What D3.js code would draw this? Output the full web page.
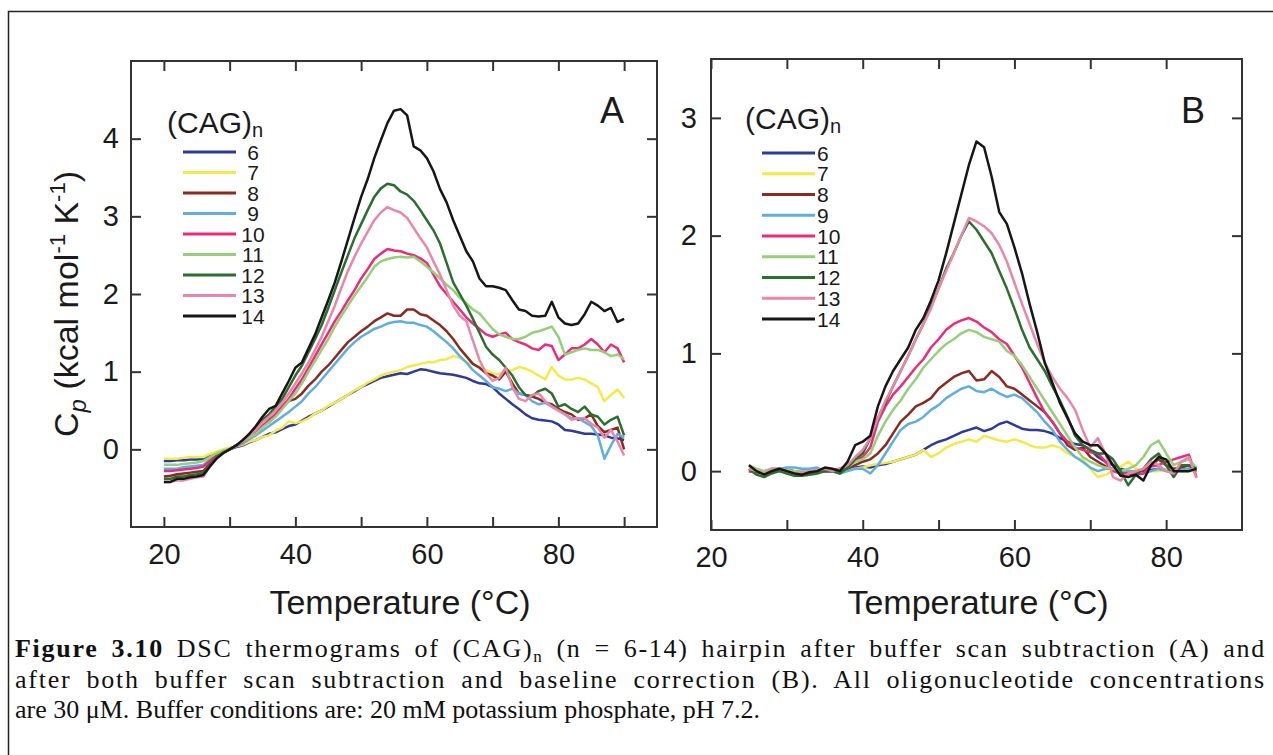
<!DOCTYPE html>
<html lang="en">
<head>
<meta charset="UTF-8">
<title>DSC thermograms of (CAG)n</title>
<script src="https://d3js.org/d3.v7.min.js"></script>
<style>
  body { margin: 0; background: #fff; }
  svg text { font-family: Arial, "Liberation Sans", sans-serif; fill: #1a1a1a; }
  .caption text { font-family: "Times New Roman", "Liberation Serif", serif; fill: #111; }
</style>
</head>
<body>
<svg id="fig" width="1273" height="755"></svg>
<script>
// ---- data (one value per degree) ----
const names = ["6", "7", "8", "9", "10", "11", "12", "13", "14"];
const colors = ["#2e3a9a", "#f5e94a", "#8b2b1e", "#5eaee3", "#ee2a7b", "#94d07a", "#2b6e2e", "#ea86a8", "#161616"];

// panel A: after buffer scan subtraction, 20..90 °C
const tempsA = d3.range(20, 91);
const a6  = [-0.15,-0.15,-0.14,-0.14,-0.13,-0.13,-0.12,-0.08,-0.05,-0.02,0.0,0.03,0.05,0.09,0.12,0.16,0.2,0.22,0.26,0.3,
             0.32,0.37,0.42,0.46,0.5,0.55,0.6,0.65,0.7,0.75,0.8,0.84,0.88,0.92,0.94,0.96,0.98,0.97,1.0,1.03,
             1.02,1.0,0.98,0.97,0.96,0.94,0.92,0.88,0.85,0.84,0.8,0.72,0.65,0.58,0.52,0.45,0.4,0.38,0.37,0.36,
             0.32,0.25,0.24,0.22,0.2,0.2,0.19,0.18,0.15,0.14,0.12];
const a7  = [-0.12,-0.12,-0.12,-0.11,-0.1,-0.1,-0.1,-0.06,-0.03,0.0,0.02,0.04,0.06,0.1,0.12,0.16,0.18,0.24,0.28,0.36,
             0.34,0.36,0.4,0.46,0.5,0.56,0.6,0.65,0.7,0.76,0.8,0.86,0.9,0.95,0.98,1.0,1.02,1.06,1.08,1.1,
             1.12,1.12,1.15,1.16,1.2,1.18,1.12,1.1,1.06,1.02,0.98,0.97,1.0,1.02,1.06,1.04,1.0,0.95,0.9,1.06,
             0.95,0.9,0.9,0.92,0.9,0.85,0.8,0.62,0.7,0.77,0.66];
const a8  = [-0.35,-0.34,-0.32,-0.31,-0.3,-0.29,-0.28,-0.18,-0.1,-0.04,0.0,0.04,0.08,0.14,0.2,0.3,0.35,0.45,0.55,0.62,
             0.65,0.72,0.82,0.9,1.0,1.08,1.18,1.28,1.38,1.45,1.52,1.58,1.65,1.7,1.75,1.72,1.72,1.8,1.8,1.74,
             1.72,1.66,1.6,1.52,1.42,1.3,1.2,1.1,1.05,0.98,0.95,0.9,1.0,0.85,0.72,0.7,0.68,0.65,0.6,0.58,
             0.52,0.48,0.45,0.38,0.4,0.45,0.3,0.22,0.25,0.28,0.0];
const a9  = [-0.25,-0.25,-0.25,-0.23,-0.22,-0.21,-0.2,-0.13,-0.07,-0.02,0.0,0.04,0.08,0.13,0.18,0.24,0.3,0.36,0.42,0.48,
             0.55,0.62,0.72,0.8,0.9,1.0,1.1,1.2,1.3,1.38,1.45,1.5,1.55,1.58,1.62,1.64,1.65,1.63,1.63,1.6,
             1.58,1.52,1.45,1.38,1.3,1.2,1.12,1.02,0.95,0.88,0.8,0.78,0.75,0.78,0.72,0.7,0.62,0.58,0.6,0.55,
             0.5,0.45,0.4,0.4,0.35,0.3,0.18,-0.12,0.05,0.2,0.15];
const a10 = [-0.28,-0.28,-0.27,-0.26,-0.25,-0.24,-0.22,-0.15,-0.08,-0.03,0.0,0.05,0.1,0.15,0.22,0.3,0.38,0.45,0.55,0.65,
             0.78,0.9,1.05,1.2,1.35,1.5,1.65,1.78,1.92,2.05,2.2,2.32,2.45,2.52,2.58,2.56,2.55,2.52,2.5,2.46,
             2.4,2.25,2.1,2.0,1.9,1.8,1.7,1.62,1.55,1.48,1.45,1.48,1.5,1.42,1.38,1.35,1.3,1.28,1.35,1.33,
             1.15,1.22,1.3,1.3,1.35,1.42,1.35,1.25,1.35,1.3,1.12];
const a11 = [-0.2,-0.2,-0.2,-0.19,-0.18,-0.17,-0.15,-0.1,-0.05,-0.02,0.0,0.05,0.1,0.15,0.2,0.28,0.35,0.42,0.52,0.62,
             0.72,0.85,1.0,1.14,1.28,1.42,1.58,1.72,1.85,1.98,2.1,2.22,2.35,2.42,2.45,2.47,2.48,2.47,2.48,2.42,
             2.35,2.28,2.2,2.12,2.05,1.95,1.88,1.8,1.75,1.65,1.55,1.48,1.45,1.42,1.42,1.45,1.5,1.52,1.55,1.58,
             1.45,1.22,1.25,1.28,1.3,1.28,1.28,1.25,1.2,1.22,1.16];
const a12 = [-0.38,-0.38,-0.35,-0.35,-0.33,-0.32,-0.3,-0.2,-0.1,-0.04,0.0,0.05,0.1,0.2,0.28,0.38,0.45,0.55,0.65,0.8,
             0.95,1.08,1.25,1.42,1.6,1.82,2.05,2.28,2.5,2.72,2.9,3.08,3.25,3.36,3.42,3.4,3.32,3.28,3.2,3.08,
             2.95,2.82,2.65,2.4,2.15,2.0,1.85,1.68,1.5,1.32,1.22,1.15,1.05,0.95,0.8,0.7,0.68,0.75,0.78,0.72,
             0.55,0.58,0.52,0.48,0.55,0.45,0.42,0.32,0.38,0.42,0.18];
const a13 = [-0.42,-0.42,-0.4,-0.4,-0.38,-0.36,-0.35,-0.22,-0.12,-0.05,0.0,0.05,0.1,0.18,0.25,0.35,0.42,0.5,0.6,0.72,
             0.85,0.98,1.12,1.28,1.45,1.65,1.85,2.08,2.3,2.48,2.65,2.8,2.95,3.05,3.12,3.08,3.05,2.98,2.85,2.72,
             2.6,2.42,2.25,2.05,1.85,1.72,1.65,1.4,1.15,0.98,0.88,0.92,1.05,0.8,0.65,0.62,0.7,0.72,0.62,0.55,
             0.5,0.45,0.38,0.4,0.4,0.33,0.28,0.15,0.25,0.1,-0.08];
const a14 = [-0.42,-0.42,-0.38,-0.38,-0.36,-0.35,-0.33,-0.22,-0.12,-0.05,0.0,0.05,0.12,0.2,0.3,0.42,0.52,0.56,0.72,0.88,
             1.05,1.12,1.3,1.48,1.7,1.92,2.15,2.42,2.7,2.98,3.25,3.48,3.75,3.98,4.2,4.36,4.38,4.3,3.9,3.85,
             3.75,3.58,3.35,3.18,2.95,2.75,2.55,2.42,2.2,2.1,2.1,2.08,2.05,1.92,1.8,1.78,1.72,1.71,1.72,1.9,
             1.7,1.62,1.6,1.62,1.74,1.9,1.85,1.78,1.82,1.64,1.68];

// panel B: after buffer subtraction and baseline correction, 25..84 °C
const tempsB = d3.range(25, 85);
const b6  = [0.0,0.0,0.0,0.0,0.0,0.0,0.0,0.0,0.0,0.0,0.0,0.0,0.01,0.02,0.03,0.04,0.03,0.05,0.06,0.08,
             0.1,0.12,0.14,0.18,0.22,0.25,0.27,0.3,0.33,0.35,0.37,0.34,0.36,0.4,0.42,0.39,0.36,0.35,0.35,0.34,
             0.32,0.28,0.25,0.23,0.22,0.18,0.12,0.08,0.05,0.02,0.0,0.0,0.0,0.01,0.02,0.01,0.0,0.01,0.02,0.0];
const b7  = [0.0,0.0,-0.01,0.0,0.0,0.0,0.0,0.01,0.0,0.0,0.0,0.0,0.0,0.01,0.02,0.03,0.05,0.06,0.07,0.08,
             0.1,0.12,0.14,0.18,0.12,0.15,0.2,0.23,0.25,0.27,0.25,0.3,0.28,0.26,0.25,0.27,0.25,0.22,0.2,0.2,
             0.22,0.2,0.15,0.12,0.1,0.02,-0.05,-0.03,0.0,0.04,0.08,0.02,0.0,0.0,0.0,0.01,0.02,0.0,0.0,0.0];
const b8  = [0.0,-0.01,-0.02,0.0,0.02,0.01,0.0,-0.01,-0.02,0.0,0.0,0.0,0.0,0.02,0.05,0.08,0.1,0.15,0.22,0.32,
             0.42,0.48,0.55,0.58,0.62,0.7,0.75,0.8,0.83,0.85,0.77,0.78,0.85,0.8,0.72,0.7,0.65,0.6,0.55,0.5,
             0.42,0.32,0.22,0.18,0.2,0.12,0.08,0.04,0.02,0.0,-0.02,0.0,0.0,0.05,0.1,0.05,0.02,0.03,0.05,0.0];
const b9  = [0.0,0.0,0.0,0.02,0.02,0.03,0.03,0.02,0.02,0.03,0.0,0.0,-0.02,0.0,0.02,0.02,-0.02,0.05,0.15,0.25,
             0.35,0.4,0.42,0.46,0.52,0.56,0.62,0.66,0.7,0.72,0.68,0.67,0.7,0.66,0.63,0.65,0.62,0.56,0.5,0.42,
             0.35,0.25,0.18,0.12,0.08,0.03,0.0,0.02,0.02,0.0,0.0,0.0,-0.02,0.0,0.02,0.0,0.0,0.01,0.02,0.0];
const b10 = [0.0,0.0,-0.02,0.0,0.02,0.01,0.0,-0.01,-0.02,0.0,0.0,0.01,0.02,0.05,0.1,0.12,0.2,0.42,0.55,0.65,
             0.72,0.8,0.88,0.95,1.05,1.12,1.2,1.25,1.28,1.3,1.27,1.22,1.18,1.12,1.08,0.98,0.88,0.75,0.62,0.5,
             0.42,0.32,0.25,0.2,0.18,0.16,0.15,0.08,0.0,-0.02,-0.02,-0.03,-0.02,0.04,0.05,0.08,0.1,0.12,0.14,-0.05];
const b11 = [0.05,0.02,0.0,0.02,0.02,0.01,0.0,0.0,0.0,0.01,0.02,0.0,0.0,0.03,0.08,0.1,0.15,0.3,0.42,0.52,
             0.6,0.7,0.78,0.88,0.95,1.02,1.08,1.12,1.17,1.2,1.18,1.14,1.12,1.1,1.02,0.98,0.9,0.8,0.7,0.6,
             0.5,0.4,0.3,0.2,0.12,0.08,0.05,0.03,0.02,0.0,0.02,0.05,0.12,0.22,0.26,0.15,0.05,0.08,0.1,0.03];
const b12 = [0.02,-0.03,-0.05,-0.02,0.0,-0.02,-0.04,-0.04,-0.03,-0.02,0.0,0.0,-0.02,0.03,0.1,0.15,0.28,0.45,0.58,0.72,
             0.85,0.98,1.12,1.25,1.4,1.55,1.72,1.85,2.0,2.12,2.05,1.95,1.85,1.7,1.55,1.38,1.2,1.05,0.95,0.85,
             0.72,0.6,0.46,0.3,0.22,0.18,0.15,0.15,0.1,0.0,-0.12,-0.03,0.02,0.1,0.15,0.05,-0.05,0.05,0.05,0.02];
const b13 = [0.02,0.0,-0.02,0.02,0.02,0.0,-0.02,-0.01,0.0,0.01,0.02,0.0,0.02,0.05,0.12,0.18,0.28,0.45,0.6,0.72,
             0.85,0.98,1.12,1.25,1.38,1.55,1.7,1.85,2.0,2.15,2.12,2.08,2.02,1.92,1.78,1.6,1.42,1.25,1.08,0.92,
             0.8,0.7,0.62,0.52,0.35,0.2,0.28,0.15,-0.05,-0.08,-0.02,0.0,0.02,0.08,0.05,0.0,-0.02,0.08,0.12,-0.06];
const b14 = [0.05,0.0,-0.03,0.0,0.02,0.0,-0.02,-0.03,-0.01,0.0,0.03,0.02,0.0,0.08,0.22,0.25,0.3,0.55,0.72,0.85,
             0.95,1.05,1.2,1.3,1.45,1.62,1.85,2.1,2.35,2.6,2.8,2.75,2.5,2.2,2.1,1.9,1.68,1.42,1.18,0.92,
             0.75,0.58,0.45,0.32,0.25,0.22,0.22,0.15,0.05,-0.04,-0.05,-0.03,-0.08,0.05,0.12,0.1,0.0,0.0,0.0,0.02];

const seriesA = [a6, a7, a8, a9, a10, a11, a12, a13, a14];
const seriesB = [b6, b7, b8, b9, b10, b11, b12, b13, b14];

// ---- layout ----
const svg = d3.select("#fig");

// outer figure box
svg.append("rect")
  .attr("x", 8.5).attr("y", 11.5)
  .attr("width", 1400).attr("height", 900)
  .attr("fill", "none").attr("stroke", "#222").attr("stroke-width", 1.5);

const panels = [
  { letter: "A", temps: tempsA, series: seriesA,
    left: 131, right: 657, top: 61, bottom: 527,
    xDomain: [15, 95], yDomain: [-1, 5],
    xTicks: [20, 30, 40, 50, 60, 70, 80, 90], yTicks: [0, 1, 2, 3, 4],
    yPad: 12, titleX: 400, letterX: 612,
    legX: 183, legY: 152, legStep: 20.5, legNumX: 253, legAnchor: "middle", headX: 167, headY: 133 },
  { letter: "B", temps: tempsB, series: seriesB,
    left: 711, right: 1242, top: 59, bottom: 530,
    xDomain: [20, 90], yDomain: [-0.5, 3.5],
    xTicks: [20, 30, 40, 50, 60, 70, 80], yTicks: [0, 1, 2, 3],
    yPad: 14, titleX: 978, letterX: 1193,
    legX: 762, legY: 153, legStep: 20.75, legNumX: 817, legAnchor: "start", headX: 745, headY: 129 }
];

panels.forEach(p => {
  const x = d3.scaleLinear().domain(p.xDomain).range([p.left, p.right]);
  const y = d3.scaleLinear().domain(p.yDomain).range([p.bottom, p.top]);
  const fmtX = d => (d % 20 === 0 ? d : "");

  const styleAxis = g => {
    g.select(".domain").remove();
    g.selectAll(".tick line").attr("stroke", "#333").attr("stroke-width", 2);
    g.attr("font-family", "Arial, 'Liberation Sans', sans-serif").attr("font-size", 29);
    g.selectAll(".tick text").attr("fill", "#1a1a1a");
  };

  svg.append("g").attr("transform", `translate(0,${p.bottom})`)
    .call(d3.axisBottom(x).tickValues(p.xTicks).tickFormat(fmtX).tickSize(-10).tickPadding(16))
    .call(styleAxis);
  svg.append("g").attr("transform", `translate(0,${p.top})`)
    .call(d3.axisTop(x).tickValues(p.xTicks).tickFormat("").tickSize(-10))
    .call(styleAxis);
  svg.append("g").attr("transform", `translate(${p.left},0)`)
    .call(d3.axisLeft(y).tickValues(p.yTicks).tickFormat(d3.format("d")).tickSize(-10).tickPadding(p.yPad))
    .call(styleAxis);
  svg.append("g").attr("transform", `translate(${p.right},0)`)
    .call(d3.axisRight(y).tickValues(p.yTicks).tickFormat("").tickSize(-10))
    .call(styleAxis);

  // frame
  svg.append("rect")
    .attr("x", p.left).attr("y", p.top)
    .attr("width", p.right - p.left).attr("height", p.bottom - p.top)
    .attr("fill", "none").attr("stroke", "#333").attr("stroke-width", 2);

  // curves
  const line = d3.line().x(d => x(d[0])).y(d => y(d[1]));
  svg.append("g").selectAll("path")
    .data(p.series)
    .join("path")
    .attr("d", s => line(p.temps.map((t, i) => [t, s[i]])))
    .attr("fill", "none")
    .attr("stroke", (s, i) => colors[i])
    .attr("stroke-width", 2.5)
    .attr("stroke-linejoin", "round");

  // legend
  const head = svg.append("text").attr("x", p.headX).attr("y", p.headY).attr("font-size", 30);
  head.append("tspan").text("(CAG)");
  head.append("tspan").attr("font-size", 20).attr("dy", 4).text("n");

  const leg = svg.append("g");
  names.forEach((n, i) => {
    const ly = p.legY + i * p.legStep;
    leg.append("line")
      .attr("x1", p.legX).attr("x2", p.legX + 53)
      .attr("y1", ly).attr("y2", ly)
      .attr("stroke", colors[i]).attr("stroke-width", 3);
    leg.append("text")
      .attr("x", p.legNumX).attr("y", ly).attr("dy", "0.36em")
      .attr("text-anchor", p.legAnchor).attr("font-size", 21)
      .text(n);
  });

  // panel letter
  svg.append("text").attr("x", p.letterX).attr("y", 123)
    .attr("text-anchor", "middle").attr("font-size", 36).text(p.letter);

  // x title
  svg.append("text").attr("x", p.titleX).attr("y", 614)
    .attr("text-anchor", "middle").attr("font-size", 34).text("Temperature (°C)");
});

// y title (panel A only)
const yt = svg.append("text")
  .attr("transform", "translate(78,304) rotate(-90)")
  .attr("text-anchor", "middle").attr("font-size", 34);
yt.append("tspan").text("C");
yt.append("tspan").attr("font-style", "italic").attr("font-size", 24).attr("dy", 8).text("p");
yt.append("tspan").attr("dy", -8).text(" (kcal mol");
yt.append("tspan").attr("font-size", 22).attr("dy", -13).text("-1");
yt.append("tspan").attr("dy", 13).text(" K");
yt.append("tspan").attr("font-size", 22).attr("dy", -13).text("-1");
yt.append("tspan").attr("dy", 13).text(")");

// caption
const cap = svg.append("g").attr("class", "caption");
const capSize = 26;
const l1 = cap.append("text").attr("x", 15).attr("y", 657).attr("font-size", capSize);
l1.append("tspan").attr("font-weight", "bold").text("Figure 3.10");
l1.append("tspan").text(" DSC thermograms of (CAG)");
l1.append("tspan").attr("font-size", 17).attr("dy", 5).text("n");
l1.append("tspan").attr("dy", -5).text(" (n = 6-14) hairpin after buffer scan subtraction (A) and");
const l2 = cap.append("text").attr("x", 15).attr("y", 688).attr("font-size", capSize)
  .text("after both buffer scan subtraction and baseline correction (B). All oligonucleotide concentrations");
cap.append("text").attr("x", 15).attr("y", 718).attr("font-size", capSize)
  .text("are 30 \u03bcM. Buffer conditions are: 20 mM potassium phosphate, pH 7.2.");

// justify the first two lines to the right margin: most of the slack between letters, the rest between words
[l1, l2].forEach(t => {
  const node = t.node();
  const chars = node.textContent.length;
  const spaces = (node.textContent.match(/ /g) || []).length;
  const slack = 1251 - node.getComputedTextLength();
  const ls = 0.7 * slack / chars;
  t.attr("letter-spacing", ls);
  const w = node.getComputedTextLength();
  t.attr("word-spacing", Math.max(0, (1251 - w) / spaces));
});
</script>
</body>
</html>
